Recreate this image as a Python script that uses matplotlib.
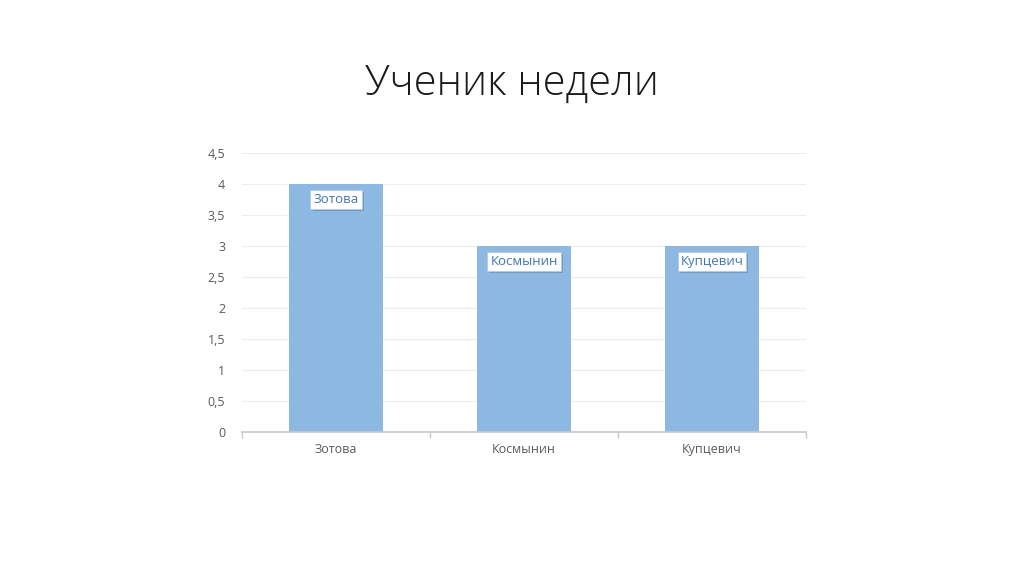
import numpy as np
import matplotlib.pyplot as plt
from matplotlib import patheffects

plt.rcParams['font.family'] = ['Open Sans', 'DejaVu Sans']

students = ['Зотова', 'Космынин', 'Купцевич']
scores = [4, 3, 3]
y_ticks = [0, 0.5, 1, 1.5, 2, 2.5, 3, 3.5, 4, 4.5]
y_labels = ['0', '0,5', '1', '1,5', '2', '2,5', '3', '3,5', '4', '4,5']

bar_color = '#8db8e2'
text_grey = '#595959'

fig = plt.figure(figsize=(10.24, 5.74), dpi=100)
fig.text(0.5, 0.855, 'Ученик недели', ha='center', va='center',
         fontsize=30, color='#1a1a1a', fontweight='light')

ax = fig.add_axes([0.2363, 0.2474, 0.5508, 0.4860])
x = np.arange(len(students))
ax.bar(x, scores, width=0.5, color=bar_color, zorder=2)
ax.set_xlim(-0.5, len(students) - 0.5)
ax.set_ylim(0, 4.5)

ax.set_yticks(y_ticks)
ax.set_yticklabels(y_labels)
ax.yaxis.grid(True, color='#ededed', linewidth=0.8, zorder=0)
ax.tick_params(axis='y', length=0, colors=text_grey, labelsize=9, pad=12)

# category labels, with small ticks at the category boundaries
ax.set_xticks(x)
ax.set_xticklabels(students)
ax.tick_params(axis='x', length=0, colors=text_grey, labelsize=9, pad=8)
ax.set_xticks(np.arange(len(students) + 1) - 0.5, minor=True)
ax.tick_params(axis='x', which='minor', length=4, color='#c8c8c8', width=1)

for side in ['top', 'right', 'left']:
    ax.spines[side].set_visible(False)
ax.spines['bottom'].set_color('#c8c8c8')
ax.spines['bottom'].set_linewidth(1.2)

# data labels (category names in boxes near the bar tops)
for xi, name, val in zip(x, students, scores):
    t = ax.annotate(name, (xi, val), xytext=(0, -11), textcoords='offset points',
                    ha='center', va='center', fontsize=9.5, color='#3f75b5', zorder=5,
                    bbox=dict(boxstyle='square,pad=0.22', fc='white', ec='#b7cbe0', lw=0.8))
    t.get_bbox_patch().set_path_effects([
        patheffects.SimplePatchShadow(offset=(1.5, -1.5), shadow_rgbFace='#5b7aa0', alpha=0.5),
        patheffects.Normal()])

fig.savefig('out.png', dpi=100)
